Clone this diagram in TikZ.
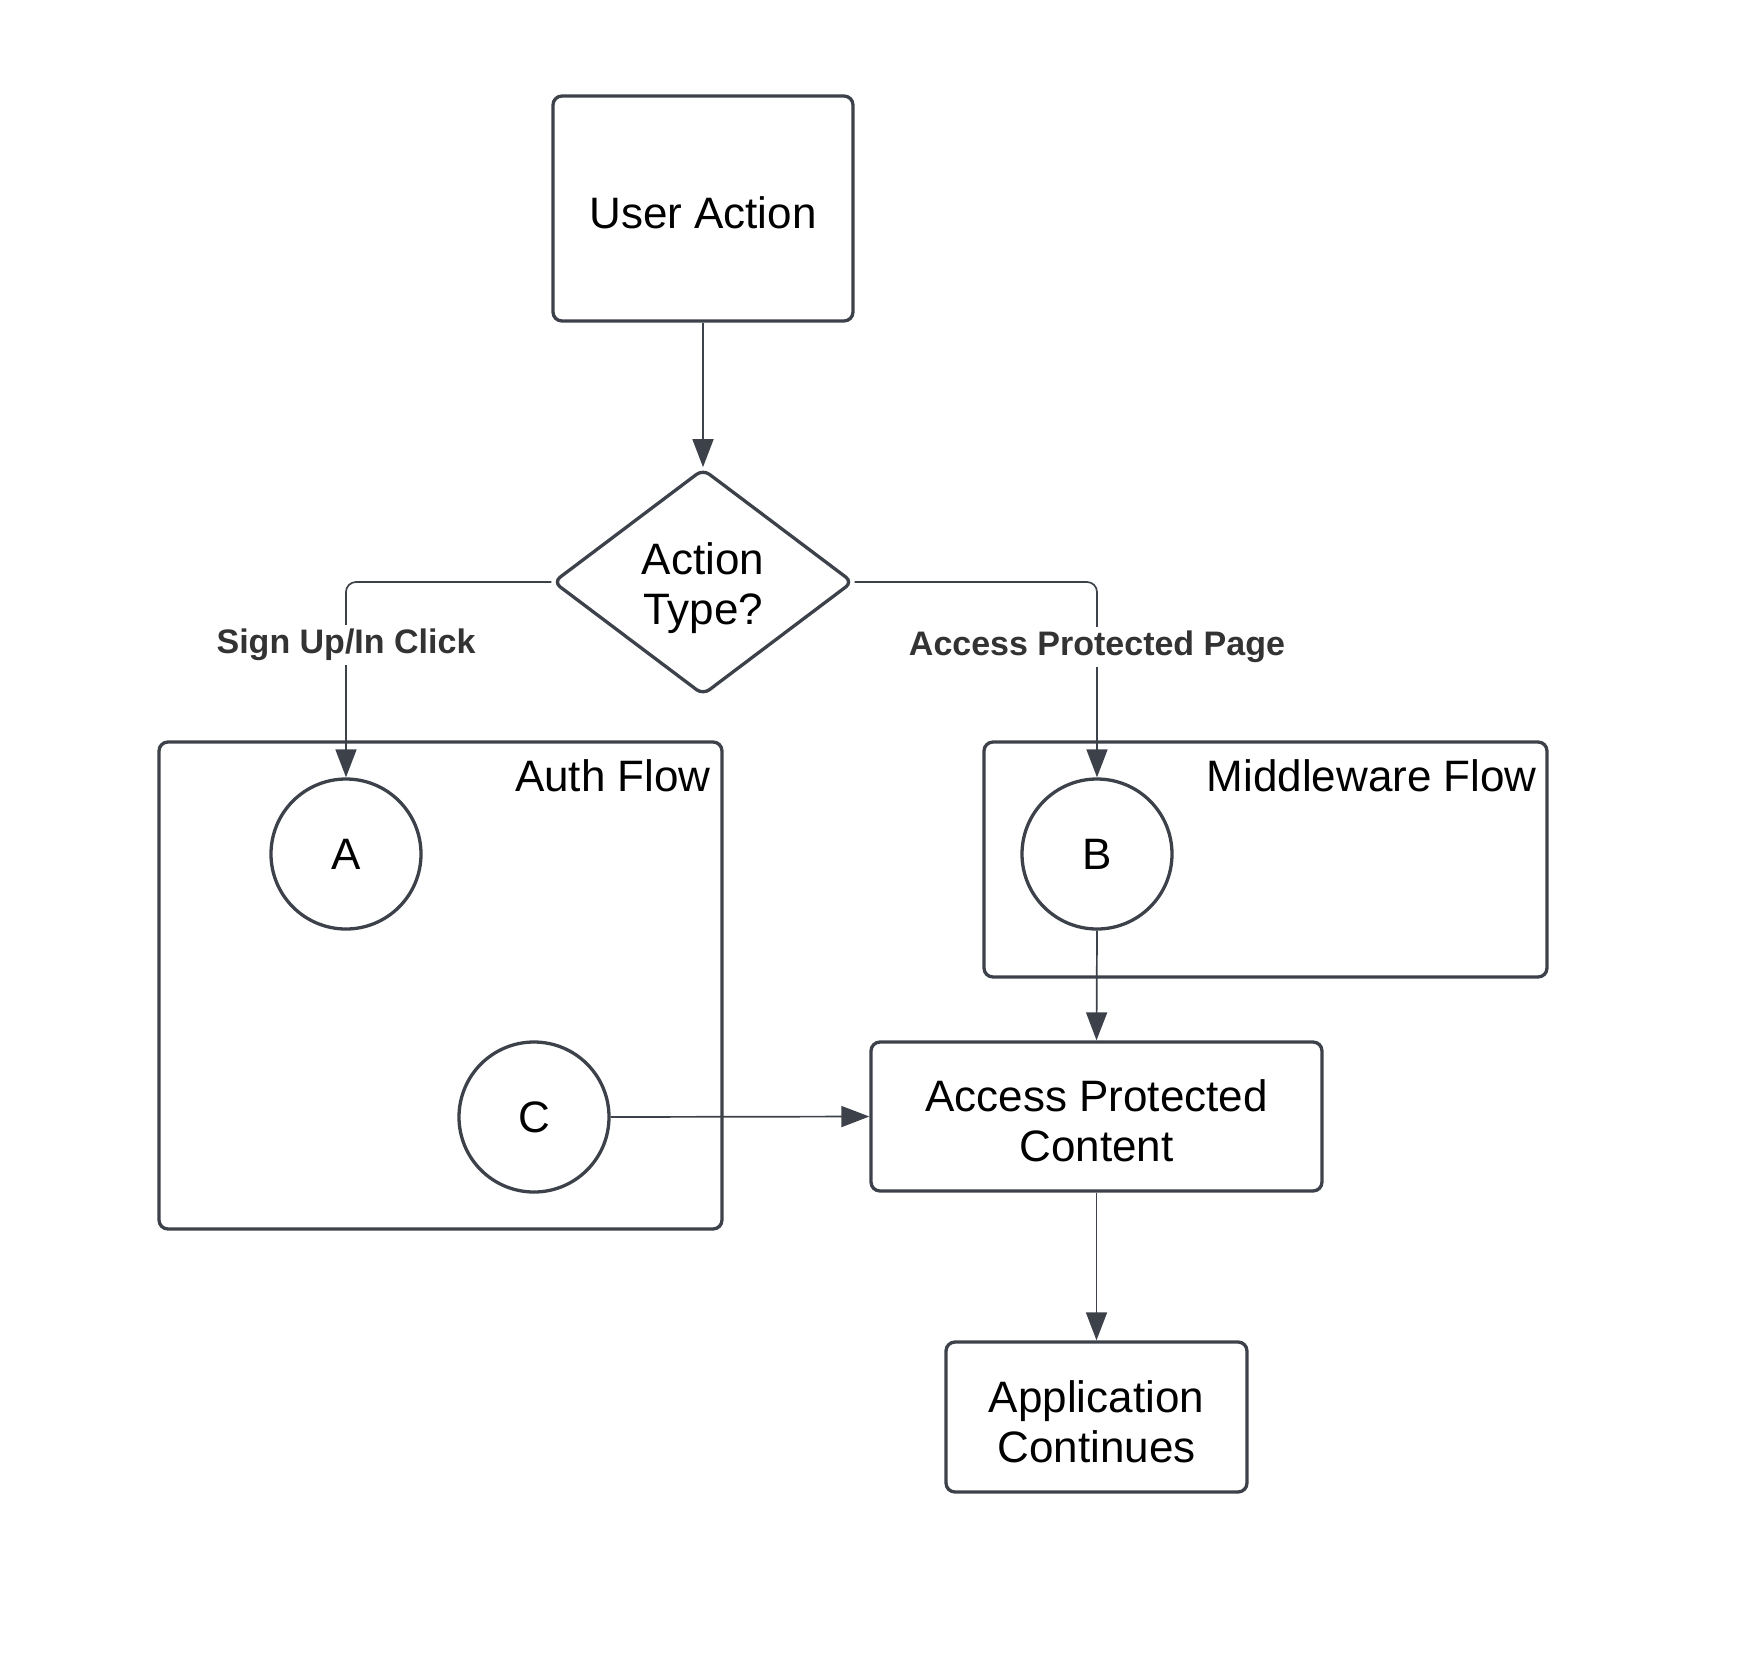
\documentclass[tikz,border=0pt]{standalone}
\usepackage{fontspec}
\setmainfont{Liberation Sans}
\usetikzlibrary{shapes.geometric,arrows.meta}
\definecolor{edge}{HTML}{3D424A}
\definecolor{lbl}{HTML}{333333}
% line struts that give every text block the same ascent and descent
\newcommand\headstrut{\rule{0pt}{45pt}}
\newcommand\footstrut{\rule[-5pt]{0pt}{5pt}}
\tikzset{
  every node/.style={font=\fontsize{44}{50}\selectfont, text=black},
  struts/.style={execute at begin node=\headstrut, execute at end node=\footstrut},
  box/.style={draw=edge, line width=3.3pt, rounded corners=9pt, fill=white, align=center, inner sep=0pt, struts},
  group/.style={draw=edge, line width=3.3pt, rounded corners=9pt, inner sep=0pt},
  decision/.style={diamond, draw=edge, line width=3.3pt, rounded corners=8pt, fill=white, align=center, inner sep=0pt, struts},
  stop/.style={circle, draw=edge, line width=3.3pt, fill=white, minimum size=150pt, inner sep=0pt},
  conn/.style={draw=edge, line width=1.7pt, rounded corners=10pt, -{Triangle[length=28pt,width=21pt]}},
  grouptitle/.style={anchor=east, inner sep=0pt},
  edgelabel/.style={fill=white, text=lbl, inner sep=4pt, font=\fontsize{34}{40}\selectfont\bfseries}
}
\begin{document}
\begin{tikzpicture}[x=1pt, y=-1pt]
\useasboundingbox (0,0) rectangle (1746,1663);

% containers
\node[group, minimum width=563pt, minimum height=487pt] (auth) at (440.5,985.5) {};
\node[group, minimum width=563pt, minimum height=235pt] (mw) at (1265.5,859.5) {};
\node[grouptitle] (authtitle) at (711,776) {Auth Flow};
\node[grouptitle] (mwtitle) at (1537,776) {Middleware Flow};

% process nodes
\node[box, minimum width=300pt, minimum height=225pt] (ua) at (703,208.5) {User Action};
\node[decision, minimum width=300pt, minimum height=226pt] (dia) at (703,582) {\headstrut Action\\Type?};
\node[stop] (A) at (346,854) {A};
\node[stop] (B) at (1097,854) {B};
\node[stop] (C) at (534,1117) {C};
\node[box, minimum width=451pt, minimum height=149pt] (apc) at (1096.5,1116.5) {\headstrut Access Protected\\Content};
\node[box, minimum width=301pt, minimum height=150pt] (app) at (1096.5,1417) {\headstrut Application\\Continues};

% connectors
\draw[conn] (ua.south) -- (dia.north);
\draw[conn] (dia.west) -| (A.north);
\draw[conn] (dia.east) -| (B.north);
\draw[conn] (B.south) -- (apc.north);
\draw[conn] (C.east) -- (apc.west);
\draw[conn] (apc.south) -- (app.north);

% branch labels
\node[edgelabel] (lsign) at (346,645) {Sign Up/In Click};
\node[edgelabel] (lacc) at (1097,647) {Access Protected Page};
\end{tikzpicture}
\end{document}
